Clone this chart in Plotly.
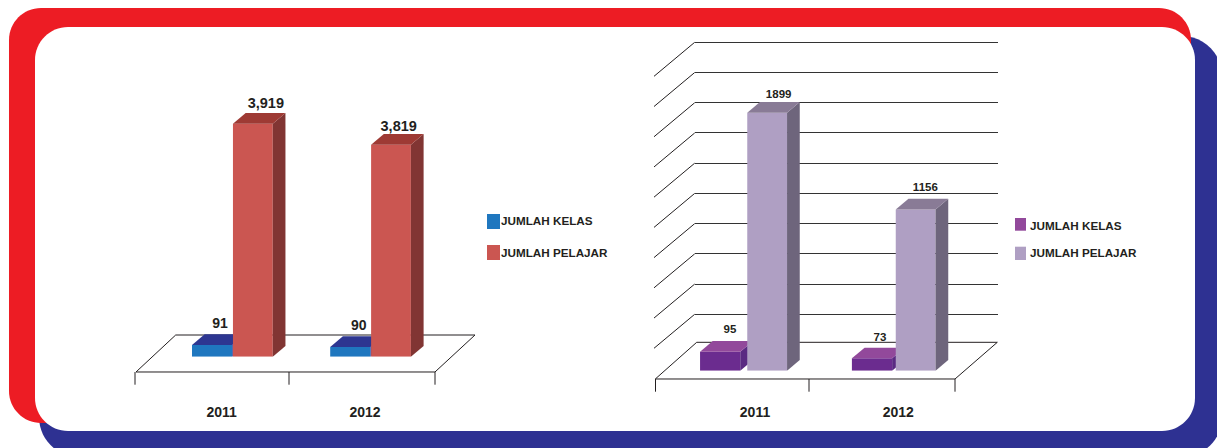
import plotly.graph_objects as go

# Printed values
years = ["2011", "2012"]
kelas_a = [91, 90]
pelajar_a = [3919, 3819]
kelas_b = [95, 73]
pelajar_b = [1899, 1156]
# Bar heights as actually drawn in the original, in value-axis units
# (the source graphic does not draw its bars strictly in proportion to the printed numbers).
kelas_a_drawn = [197, 163]
pelajar_a_drawn = [3919, 3566]
kelas_b_drawn = [140, 91]
pelajar_b_drawn = [1899, 1187]
grid_values = [222, 444, 666, 888, 1110, 1332, 1554, 1776, 1998, 2220]
series_names = ["JUMLAH KELAS", "JUMLAH PELAJAR"]

W, H = 1217, 448
FONT = "Liberation Sans"
INK = "#231F20"
RED, NAVY = "#ED1C24", "#2E3192"

def fx(px): return px / W
def fy(py): return 1 - py / H

def rounded(x0, y0, x1, y1, r):
    c = r * 0.4477
    pts = [("M", x0 + r, y0), ("L", x1 - r, y0),
           ("C", x1 - c, y0, x1, y0 + c, x1, y0 + r), ("L", x1, y1 - r),
           ("C", x1, y1 - c, x1 - c, y1, x1 - r, y1), ("L", x0 + r, y1),
           ("C", x0 + c, y1, x0, y1 - c, x0, y1 - r), ("L", x0, y0 + r),
           ("C", x0, y0 + c, x0 + c, y0, x0 + r, y0)]
    out = []
    for p in pts:
        nums = p[1:]
        coords = [f"{fx(nums[i]):.6f},{fy(nums[i + 1]):.6f}" for i in range(0, len(nums), 2)]
        out.append(p[0] + " ".join(coords))
    return " ".join(out) + " Z"

shapes = []
def panel(x0, y0, x1, y1, r, color):
    shapes.append(dict(type="path", xref="paper", yref="paper", layer="below",
                       path=rounded(x0, y0, x1, y1, r), fillcolor=color, line=dict(width=0)))

def seg(x0, y0, x1, y1, color=INK, width=1):
    shapes.append(dict(type="line", xref="paper", yref="paper", layer="below",
                       x0=fx(x0), y0=fy(y0), x1=fx(x1), y1=fy(y1),
                       line=dict(color=color, width=width)))

def poly(pts, fill):
    d = "M" + " L".join(f"{fx(a):.6f},{fy(b):.6f}" for a, b in pts) + " Z"
    shapes.append(dict(type="path", xref="paper", yref="paper", layer="below", path=d,
                       fillcolor=fill, line=dict(color=INK, width=1)))

panel(39, 36, 1222, 457, 40, NAVY)
panel(9, 8, 1191, 423, 32, RED)
panel(35, 27, 1195, 431, 33, "#FFFFFF")

fig = go.Figure()
layout = dict(width=W, height=H, autosize=False, margin=dict(l=0, r=0, t=0, b=0),
              paper_bgcolor="#FFFFFF", plot_bgcolor="rgba(0,0,0,0)", showlegend=False,
              barmode="overlay", font=dict(family=FONT, color=INK))
axis_no = [0]

def hidden_axes(xdom, ydom, xr, yr):
    axis_no[0] += 1
    n = axis_no[0]
    sx = "" if n == 1 else str(n)
    common = dict(showgrid=False, zeroline=False, showline=False, ticks="", showticklabels=False, fixedrange=True)
    layout["xaxis" + sx] = dict(domain=xdom, range=xr, anchor="y" + sx, **common)
    layout["yaxis" + sx] = dict(domain=ydom, range=yr, anchor="x" + sx, **common)
    return "x" + sx, "y" + sx, "xaxis" + sx, "yaxis" + sx

def year_axis(c0, c1, bottom_px):
    step = c1 - c0
    xd = [fx(c0 - step / 2), fx(c1 + step / 2)]
    xa, ya, xk, yk = hidden_axes(xd, [fy(bottom_px), fy(bottom_px - 8)], [-0.5, 1.5], [0, 1])
    layout[xk].update(showticklabels=True, tickmode="array", tickvals=[0, 1], ticktext=years,
                      tickfont=dict(family=FONT, size=14, color=INK, weight="bold"))
    fig.add_trace(go.Scatter(x=[0, 1], y=[0, 0], mode="markers", marker=dict(opacity=0),
                             hoverinfo="skip", xaxis=xa, yaxis=ya))

def bars(name, drawn, printed, label_fmt, centres, bar_px, zero_px, px_per_unit, colors,
         label_dx, label_up, label_size, dx_px=12.7, dy_px=10.7):
    step = centres[1] - centres[0]
    top_px = 10
    xd = [fx(centres[0] - step / 2), fx(centres[1] + step / 2)]
    yr = [0, (zero_px - top_px) / px_per_unit]
    xa, ya, _, _ = hidden_axes(xd, [fy(zero_px), fy(top_px)], [-0.5, 1.5], yr)
    bw = bar_px / step
    dx = dx_px / step
    dy = dy_px / px_per_unit
    front, topc, sidec = colors
    fig.add_trace(go.Bar(x=[0, 1], y=drawn, width=bw, name=name, marker=dict(color=front, line=dict(width=0)),
                         customdata=years, hovertemplate="%{customdata}<extra>" + name + "</extra>",
                         xaxis=xa, yaxis=ya))
    for i, v in enumerate(drawn):
        l, r = i - bw / 2, i + bw / 2
        fig.add_trace(go.Scatter(x=[r, r + dx, r + dx, r, r], y=[0, dy, v + dy, v, 0], mode="lines", fill="toself",
                                 fillcolor=sidec, line=dict(width=0), hoverinfo="skip", xaxis=xa, yaxis=ya))
        fig.add_trace(go.Scatter(x=[l, l + dx, r + dx, r, l], y=[v, v + dy, v + dy, v, v], mode="lines", fill="toself",
                                 fillcolor=topc, line=dict(width=0), hoverinfo="skip", xaxis=xa, yaxis=ya))
    fig.add_trace(go.Scatter(
        x=[i + label_dx[i] / step for i in range(2)],
        y=[drawn[i] + (label_up[i] - 1.3) / px_per_unit for i in range(2)],
        mode="text", text=[label_fmt.format(v) for v in printed], textposition="middle center",
        textfont=dict(family=FONT, size=label_size, color=INK, weight="bold"), hoverinfo="skip",
        cliponaxis=False, xaxis=xa, yaxis=ya))

# ---- left chart floor
poly([(136, 372), (435, 372), (475, 335), (175.7, 335)], "#FFFFFF")
for x in (135, 289, 435):
    seg(x, 372, x, 384.7)

# ---- right chart floor and back wall
poly([(655.3, 379), (955, 379), (997.3, 342.3), (696.7, 342.3)], "#FFFFFF")
for x in (655.5, 809, 955):
    seg(x, 379, x, 391.7)

year_axis(221.7, 365, 402)
year_axis(755, 898.3, 402)

# grid wall: real axis gridlines (range runs past the top line so that it is drawn)
GRID_TOP, GRID_ZERO = 42.3, 344.5
units_per_px = grid_values[-1] / (GRID_ZERO - GRID_TOP)
AXIS_TOP = 20
xa, ya, xk, yk = hidden_axes([fx(694.7), fx(998.3)], [fy(GRID_ZERO), fy(AXIS_TOP)], [0, 1],
                             [0, (GRID_ZERO - AXIS_TOP) * units_per_px])
layout[yk].update(showgrid=True, gridcolor="#333333", gridwidth=1, tickmode="array", tickvals=grid_values)
fig.add_trace(go.Scatter(x=[0], y=[0], mode="markers", marker=dict(opacity=0), hoverinfo="skip", xaxis=xa, yaxis=ya))
for g in grid_values:
    py = GRID_ZERO - g / units_per_px
    seg(694.7, py, 654, py + 34)

A_UNIT = 233 / 3919
B_UNIT = 258 / 1899
bars(series_names[0], kelas_a_drawn, kelas_a, "{:,}", [212.15, 350.35], 40.3, 356.7, A_UNIT,
     ("#1F77BF", "#2D3691", "#2D3691"), [7.85, 8.35], [21.7, 21.7], 14)
bars(series_names[1], pelajar_a_drawn, pelajar_a, "{:,}", [252.85, 391], 39.8, 356.7, A_UNIT,
     ("#CB5651", "#9E3A34", "#813533"), [13, 7.7], [21, 18.7], 14.5)
bars(series_names[0], kelas_b_drawn, kelas_b, "{}", [720.15, 872], 40.2, 370.7, B_UNIT,
     ("#6B2C8F", "#92499B", "#5A2A82"), [9.85, 8], [22.7, 21.6], 11.5)
bars(series_names[1], pelajar_b_drawn, pelajar_b, "{}", [767.15, 915.65], 39.8, 370.7, B_UNIT,
     ("#AF9FC3", "#897B96", "#6E657C"), [11.5, 9.7], [18.4, 23], 11.5)

# ---- manual legends
annotations = []
def legend_item(x0, y0, x1, y1, color, text, tx, ty):
    shapes.append(dict(type="rect", xref="paper", yref="paper", layer="below",
                       x0=fx(x0), y0=fy(y0), x1=fx(x1), y1=fy(y1), fillcolor=color, line=dict(width=0)))
    annotations.append(dict(xref="paper", yref="paper", x=fx(tx), y=fy(ty), text=f"<b>{text}</b>", showarrow=False,
                            xanchor="left", yanchor="middle", xshift=0,
                            font=dict(family=FONT, size=11.7, color=INK), borderpad=0, borderwidth=0))

legend_item(487, 214, 500, 229, "#1F77BF", series_names[0], 500.7, 220.7)
legend_item(487, 245, 500, 260, "#CB5651", series_names[1], 500.7, 252.7)
legend_item(1015, 218, 1026, 230.7, "#92499B", series_names[0], 1030, 225.7)
legend_item(1015, 246.7, 1026, 260, "#AF9FC3", series_names[1], 1030, 252.3)

layout["shapes"] = shapes
layout["annotations"] = annotations
fig.update_layout(**layout)
fig.write_html("out.html", config={"displayModeBar": False},
               post_script="document.body.style.margin='0';document.body.style.overflow='hidden';")
